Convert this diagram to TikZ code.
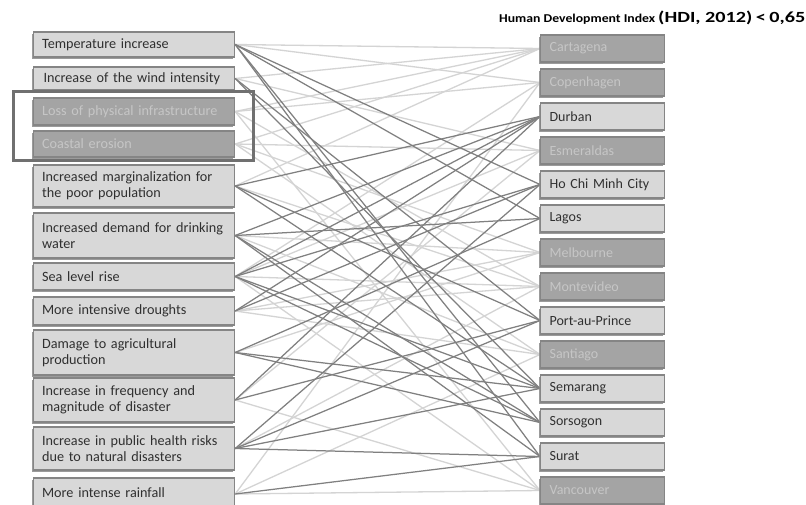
\documentclass[tikz,border=0pt]{standalone}
\usepackage{fontspec}
\setmainfont{Carlito}
\usetikzlibrary{shadows}
\pgfdeclarelayer{bgl}
\pgfdeclarelayer{lightl}
\pgfdeclarelayer{darkl}
\pgfsetlayers{bgl,lightl,darkl,main}
\definecolor{boxfill}{HTML}{D8D8D8}
\definecolor{boxdark}{HTML}{A4A4A4}
\definecolor{boxedge}{HTML}{858585}
\definecolor{txtdark}{HTML}{303030}
\definecolor{txtfaint}{HTML}{C6C6C6}
\definecolor{shadowc}{HTML}{8A8A8A}
\definecolor{dlinec}{HTML}{808080}
\definecolor{llinec}{HTML}{D4D4D4}
\definecolor{framec}{HTML}{707070}
\tikzset{
  box/.style={draw=boxedge, line width=1.2pt, fill=boxfill, text=txtdark,
    inner ysep=0pt, align=left, anchor=west,
    drop shadow={shadow xshift=-1.6pt, shadow yshift=-1.6pt, fill=shadowc, opacity=0.85}},
  lbox/.style={box, font=\fontsize{14.2}{16}\selectfont,
    minimum width=201pt, text width=184pt, inner xsep=8.5pt},
  rbox/.style={box, font=\fontsize{14}{16}\selectfont, minimum width=124pt, text width=106pt, inner xsep=9pt, minimum height=27pt},
  faded/.style={fill=boxdark, text=txtfaint},
  dline/.style={draw=dlinec, line width=1.25pt},
  lline/.style={draw=llinec, line width=1.3pt},
  frame/.style={draw=framec, line width=3pt}
}
\begin{document}
\hyphenpenalty=10000\relax
\exhyphenpenalty=10000\relax
\begin{tikzpicture}[x=1pt,y=-1pt]
\begin{pgfonlayer}{bgl}
\fill[white] (0,0) rectangle (806,505);
\end{pgfonlayer}
\useasboundingbox (0,0) rectangle (806,505);
% left boxes
\node[lbox, minimum height=25pt] (L1) at (33,44.5) {Temperature increase};
\node[lbox, minimum height=23pt] (L2) at (33,78.5) {\hspace*{1.5pt}Increase of the wind intensity};
\node[lbox, faded, minimum height=27pt] (L3) at (33,111.5) {Loss of physical infrastructure};
\node[lbox, faded, minimum height=26pt] (L4) at (33,144) {Coastal erosion};
\node[lbox, minimum height=42pt] (L5) at (33,186) {Increased marginalization for\\the poor population};
\node[lbox, minimum height=45pt] (L6) at (33,235.5) {Increased demand for drinking\\water};
\node[lbox, minimum height=27pt] (L7) at (33,276.5) {Sea level rise};
\node[lbox, minimum height=28pt] (L8) at (33,311) {More intensive droughts};
\node[lbox, minimum height=45pt] (L9) at (33,352.5) {Damage to agricultural\\production};
\node[lbox, minimum height=44pt] (L10) at (33,400) {Increase in frequency and\\magnitude of disaster};
\node[lbox, minimum height=43pt] (L11) at (33,448.5) {Increase in public health risks\\due to natural disasters};
\node[lbox, minimum height=32pt] (L12) at (33,494) {More intense rainfall\vphantom{p}};
% right boxes
\node[rbox, faded] (R1) at (540,48.5) {Cartagena};
\node[rbox, faded] (R2) at (540,82.5) {Copenhagen};
\node[rbox] (R3) at (540,116.5) {Durban};
\node[rbox, faded] (R4) at (540,150.5) {Esmeraldas};
\node[rbox] (R5) at (540,184.5) {Ho Chi Minh City};
\node[rbox] (R6) at (540,218.5) {Lagos};
\node[rbox, faded] (R7) at (540,252.5) {Melbourne};
\node[rbox, faded] (R8) at (540,286.5) {Montevideo};
\node[rbox] (R9) at (540,320.5) {Port-au-Prince};
\node[rbox, faded] (R10) at (540,354.5) {Santiago};
\node[rbox] (R11) at (540,388.5) {Semarang};
\node[rbox] (R12) at (540,422.5) {Sorsogon};
\node[rbox] (R13) at (540,456.5) {Surat};
\node[rbox, faded] (R14) at (540,490.5) {Vancouver};
% highlight frame
\draw[frame] (13,92) rectangle (253,161);
% title
\node[anchor=base west, inner sep=0pt, text=black] (T) at (499,22.5)
  {\bfseries\resizebox{156pt}{\height}{\fontsize{12}{14}\selectfont Human Development Index}\hspace{3pt}\resizebox{147pt}{\height}{\fontsize{15.5}{18}\selectfont(HDI, 2012)\,<\,0,65}};
% connectors
\begin{pgfonlayer}{lightl}
\foreach \a/\b in {1/1,1/2,2/1,2/4,3/1,3/2,3/8,3/14,4/1,4/4,4/7,4/10,5/1,5/8,6/7,6/10,
                   7/2,7/4,7/8,7/14,8/7,8/8,8/10,9/7,10/4,10/14,11/8,12/14,12/10,12/2}
  \draw[lline] (L\a.east) -- (R\b.west);
\end{pgfonlayer}
\begin{pgfonlayer}{darkl}
\foreach \a/\b in {1/5,1/6,1/12,1/13,2/9,2/11,5/3,5/9,5/11,6/3,6/6,6/12,6/13,
                   7/3,7/5,7/11,7/12,8/3,8/5,9/11,9/12,9/6,10/3,10/9,
                   11/5,11/9,11/11,11/13,12/13}
  \draw[dline] (L\a.east) -- (R\b.west);
\end{pgfonlayer}
\end{tikzpicture}
\end{document}
